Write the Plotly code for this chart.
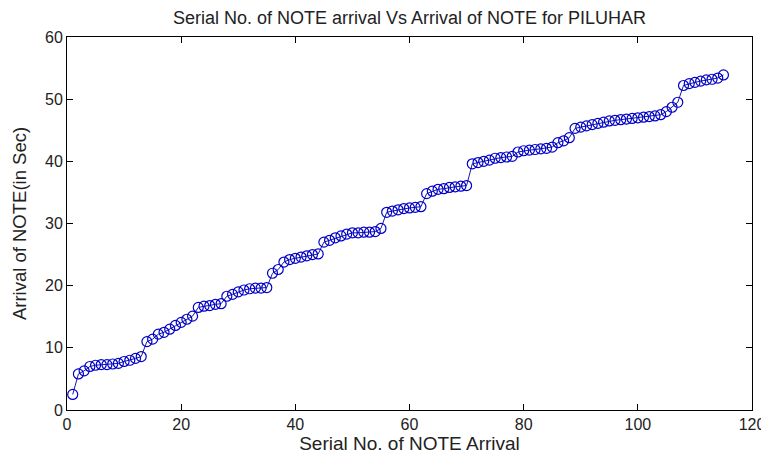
import plotly.graph_objects as go

serial_no = list(range(1, 116))
arrival_sec = [
    2.5, 5.8, 6.3, 7.0, 7.2, 7.3, 7.3, 7.4, 7.5, 7.8, 8.0, 8.3, 8.6,
    11.0, 11.4, 12.2, 12.5, 13.0, 13.6, 14.1, 14.6, 15.1, 16.5, 16.7,
    16.8, 17.0, 17.1, 18.3, 18.6, 19.0, 19.3, 19.5, 19.6, 19.6, 19.7,
    22.0, 22.6, 23.8, 24.2, 24.4, 24.6, 24.8, 25.0, 25.1,
    27.0, 27.3, 27.7, 28.0, 28.3, 28.5, 28.5, 28.6, 28.6, 28.7, 29.2,
    31.8, 32.0, 32.2, 32.4, 32.5, 32.6, 32.7,
    34.8, 35.2, 35.5, 35.6, 35.8, 35.9, 36.0, 36.1,
    39.6, 39.8, 40.0, 40.2, 40.5, 40.6, 40.7, 40.8,
    41.5, 41.7, 41.8, 41.9, 42.0, 42.1, 42.3, 43.0, 43.3, 43.8,
    45.3, 45.5, 45.7, 45.9, 46.1, 46.3, 46.5, 46.6, 46.7, 46.8, 46.9,
    47.0, 47.1, 47.2, 47.3, 47.5, 48.0, 48.7, 49.5,
    52.2, 52.5, 52.7, 52.9, 53.1, 53.2, 53.4, 53.9,
]

x_ticks = [0, 20, 40, 60, 80, 100, 120]
y_ticks = [0, 10, 20, 30, 40, 50, 60]

fig = go.Figure()
fig.add_trace(go.Scatter(
    x=serial_no, y=arrival_sec, mode="lines+markers",
    line=dict(color="#1a1aa0", width=1),
    marker=dict(symbol="circle-open", size=10, color="#0000c8", line=dict(width=1.2)),
    showlegend=False,
))

axis_common = dict(
    showline=True, linecolor="black", linewidth=1, mirror="allticks",
    ticks="inside", ticklen=6, tickcolor="black", showgrid=False, zeroline=False,
    tickfont=dict(size=16, color="#222"), automargin=False,
)

W, H = 761, 449
fig.update_layout(
    width=W, height=H,
    margin=dict(l=59, r=17, t=29, b=47),
    paper_bgcolor="white", plot_bgcolor="white",
    font=dict(family="Liberation Sans, Arial, sans-serif", color="#222"),
    title=dict(text="Serial No. of NOTE arrival Vs Arrival of NOTE for PILUHAR",
               x=0.5, xref="paper", xanchor="center",
               y=1 - 10 / H, yref="container", yanchor="middle",
               font=dict(size=18, color="#222")),
    xaxis=dict(range=[0, 120], tickvals=x_ticks,
               title=dict(text="Serial No. of NOTE Arrival", font=dict(size=19), standoff=0),
               **axis_common),
    yaxis=dict(range=[0, 60], tickvals=y_ticks,
               title=dict(text="Arrival of NOTE(in Sec)", font=dict(size=18.5), standoff=13),
               **axis_common),
)

fig.write_html("out.html")
